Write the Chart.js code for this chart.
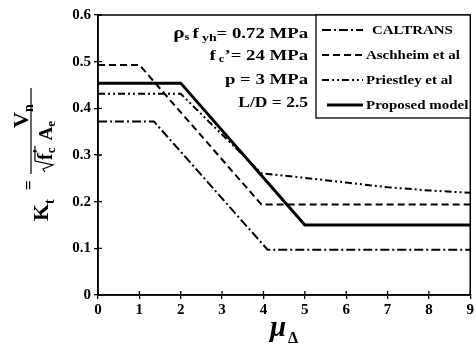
<!DOCTYPE html>
<html>
<head>
<meta charset="utf-8">
<script src="https://cdn.jsdelivr.net/npm/chart.js@4/dist/chart.umd.min.js"></script>
<style>
  html, body { margin: 0; padding: 0; background: #fff; }
  canvas { display: block; }
</style>
</head>
<body>
<canvas id="c" width="476" height="347"></canvas>
<script>
// ── DATA ─────────────────────────────────────────────────────
const xTicks = [0, 1, 2, 3, 4, 5, 6, 7, 8, 9];
const yTicks = [0, 0.1, 0.2, 0.3, 0.4, 0.5, 0.6];

const seriesNames = ['CALTRANS', 'Aschheim et al', 'Priestley et al', 'Proposed model'];

const muCaltrans = [0, 1.35, 4.1, 9];
const kCaltrans  = [0.372, 0.372, 0.097, 0.097];

const muAschheim = [0, 1.0, 3.95, 9];
const kAschheim  = [0.493, 0.493, 0.194, 0.194];

const muPriestley = [0, 2.0, 3.95, 5, 6, 7, 8, 9];
const kPriestley  = [0.431, 0.431, 0.261, 0.251, 0.241, 0.231, 0.224, 0.219];

const muProposed = [0, 2.0, 5.0, 9];
const kProposed  = [0.454, 0.454, 0.150, 0.150];

const SERIF = "'Liberation Serif', 'Times New Roman', serif";

function pts(xs, ys) { return xs.map((x, i) => ({ x, y: ys[i] })); }

// ── HELPERS ──────────────────────────────────────────────────
// text runs {t, size, dy, italic, gap}; sx stretches glyphs horizontally (the scan's type is wide)
function drawRuns(ctx, runs, x, y, align, sx = 1) {
  const fontOf = r => `${r.italic ? 'italic ' : ''}bold ${r.size}px ${SERIF}`;
  let total = 0;
  runs.forEach(r => { ctx.font = fontOf(r); total += ctx.measureText(r.t).width * sx + (r.gap || 0); });
  let cx = align === 'right' ? x - total : x;
  ctx.textAlign = 'left';
  ctx.textBaseline = 'alphabetic';
  runs.forEach(r => {
    ctx.font = fontOf(r);
    ctx.save();
    ctx.translate(cx, y + (r.dy || 0));
    ctx.scale(sx, 1);
    ctx.fillText(r.t, 0, 0);
    ctx.restore();
    cx += ctx.measureText(r.t).width * sx + (r.gap || 0);
  });
  return cx;
}

// ── PLUGIN: frame, inner ticks, titles, notes, legend ────────
const decor = {
  id: 'decor',
  afterDraw(chart) {
    const ctx = chart.ctx;
    const a = chart.chartArea;
    const xs = chart.scales.x, ys = chart.scales.y;
    ctx.save();
    ctx.strokeStyle = '#000';
    ctx.fillStyle = '#000';

    // frame
    ctx.lineWidth = 1.5;
    ctx.strokeRect(a.left, a.top, a.right - a.left, a.bottom - a.top);

    // inner half of tick marks
    ctx.lineWidth = 1.3;
    ctx.beginPath();
    xTicks.forEach(v => { const px = xs.getPixelForValue(v); ctx.moveTo(px, a.bottom); ctx.lineTo(px, a.bottom - 4); });
    yTicks.forEach(v => { const py = ys.getPixelForValue(v); ctx.moveTo(a.left, py); ctx.lineTo(a.left + 4, py); });
    ctx.stroke();

    // x title: mu_Delta
    drawRuns(ctx, [{ t: 'μ', size: 29, italic: true }], 270, 336, 'left');
    drawRuns(ctx, [{ t: 'Δ', size: 16 }], 288, 343, 'left');

    // y title: K_t = V_n / (sqrt(f_c') A_e), rotated
    ctx.save();
    ctx.translate(31, 134);
    ctx.rotate(-Math.PI / 2);
    let e = drawRuns(ctx, [{ t: 'K', size: 22 }], -87, 17, 'left');
    drawRuns(ctx, [{ t: 't', size: 14 }], e, 23, 'left');
    drawRuns(ctx, [{ t: '=', size: 17 }], -56, 3, 'left');
    ctx.lineWidth = 1.2;
    ctx.beginPath(); ctx.moveTo(-40, 0); ctx.lineTo(46, 0); ctx.stroke();
    e = drawRuns(ctx, [{ t: 'V', size: 22 }], 6, -3, 'left');
    drawRuns(ctx, [{ t: 'n', size: 14 }], e, 2, 'left');
    // denominator: radical drawn as a path, then f_c' and A_e
    ctx.lineWidth = 1.2;
    ctx.beginPath();
    ctx.moveTo(-38, 14); ctx.lineTo(-35, 12); ctx.lineTo(-31, 22); ctx.lineTo(-27, 4);
    ctx.lineTo(-12, 4);
    ctx.stroke();
    e = drawRuns(ctx, [{ t: 'f', size: 20 }], -26, 21, 'left');
    e = drawRuns(ctx, [{ t: 'c', size: 13 }], e, 24, 'left');
    drawRuns(ctx, [{ t: '\u2019', size: 14 }], e - 6, 12, 'left');
    e = drawRuns(ctx, [{ t: 'A', size: 19 }], e + 7, 21, 'left');
    drawRuns(ctx, [{ t: 'e', size: 13 }], e, 24, 'left');
    ctx.restore();

    // parameter notes (right-aligned)
    const NX = 308, SX = 1.25;
    drawRuns(ctx, [
      { t: 'ρ', size: 17 }, { t: 's', size: 10, dy: 2, gap: 3 },
      { t: 'f', size: 15 }, { t: ' yh', size: 11, dy: 3 }, { t: '= 0.72 MPa', size: 15 }
    ], NX, 38, 'right', SX);
    drawRuns(ctx, [
      { t: 'f', size: 15 }, { t: ' c', size: 10, dy: 2 }, { t: '\u2019= 24 MPa', size: 15 }
    ], NX, 60, 'right', SX);
    drawRuns(ctx, [{ t: 'p = 3 MPa', size: 15 }], NX, 84, 'right', SX);
    drawRuns(ctx, [{ t: 'L/D = 2.5', size: 14 }], NX, 107, 'right', SX);

    // legend box
    const bx = 316, by = a.top, bw = a.right - bx, bh = 118 - a.top;
    ctx.fillStyle = '#fff';
    ctx.fillRect(bx, by, bw, bh);
    ctx.lineWidth = 1.3;
    ctx.strokeRect(bx, by, bw, bh);
    ctx.fillStyle = '#000';
    const rows = [30, 55, 80, 105];
    chart.data.datasets.forEach((ds, i) => {
      const yy = rows[i];
      ctx.save();
      ctx.lineWidth = ds.borderWidth;
      ctx.setLineDash(ds.borderDash || []);
      ctx.beginPath(); ctx.moveTo(i === 3 ? 327 : 322, yy); ctx.lineTo(363, yy); ctx.stroke();
      ctx.restore();
      drawRuns(ctx, [{ t: ds.label, size: i === 0 ? 13 : 13 }], i === 0 ? 372 : 366, yy + 4, 'left', 1.15);
    });

    ctx.restore();
  }
};

// ── CHART ────────────────────────────────────────────────────
function line(label, xs, ys, dash, width) {
  return {
    label,
    data: pts(xs, ys),
    borderColor: '#000',
    backgroundColor: '#000',
    borderWidth: width,
    borderDash: dash,
    pointRadius: 0,
    tension: 0,
    fill: false,
  };
}

new Chart(document.getElementById('c'), {
  type: 'line',
  data: {
    datasets: [
      line(seriesNames[0], muCaltrans, kCaltrans, [9, 3, 2, 3], 2),
      line(seriesNames[1], muAschheim, kAschheim, [7, 4], 2),
      line(seriesNames[2], muPriestley, kPriestley, [7, 3, 2, 3, 2, 3], 2),
      line(seriesNames[3], muProposed, kProposed, [], 3),
    ],
  },
  options: {
    responsive: false,
    animation: false,
    layout: { padding: { top: 15, right: 2, left: 0, bottom: 0 } },
    plugins: { legend: { display: false }, tooltip: { enabled: false } },
    scales: {
      x: {
        type: 'linear', min: 0, max: 9,
        afterFit: s => { s.height = 52; },
        afterBuildTicks: s => { s.ticks = xTicks.map(v => ({ value: v })); },
        ticks: { color: '#000', font: { family: SERIF, size: 15, weight: 'bold' }, padding: 2, maxRotation: 0 },
        grid: { drawOnChartArea: false, drawTicks: true, tickLength: 4, color: '#000', lineWidth: 1.3 },
        border: { display: true, color: '#000', width: 1.5 },
      },
      y: {
        type: 'linear', min: 0, max: 0.6,
        afterFit: s => { s.width = 98; },
        afterBuildTicks: s => { s.ticks = yTicks.map(v => ({ value: v })); },
        ticks: {
          color: '#000', font: { family: SERIF, size: 15, weight: 'bold' }, padding: 3,
          callback: v => v === 0 ? '0' : v.toFixed(1),
        },
        grid: { drawOnChartArea: false, drawTicks: true, tickLength: 4, color: '#000', lineWidth: 1.3 },
        border: { display: true, color: '#000', width: 1.5 },
      },
    },
  },
  plugins: [decor],
});
</script>
</body>
</html>
